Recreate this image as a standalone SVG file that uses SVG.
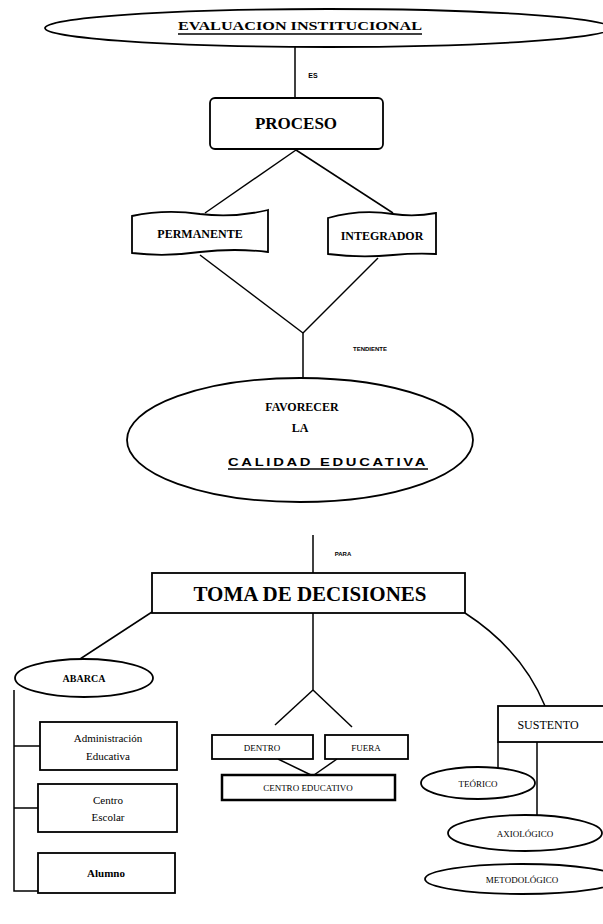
<svg xmlns="http://www.w3.org/2000/svg" width="603" height="924" viewBox="0 0 603 924">
<style>
.ln{stroke:#000;stroke-width:1.5;fill:none}
.sh{stroke:#000;stroke-width:1.8;fill:#fff}
.t{font-family:"Liberation Serif","DejaVu Serif",serif;fill:#000;text-anchor:middle}
.b{font-weight:bold}
.s{font-family:"Liberation Sans","DejaVu Sans",sans-serif;fill:#000;text-anchor:middle;font-weight:bold}
</style>
<rect width="603" height="924" fill="#fff"/>
<g id="connectors">
<line class="ln" x1="295" y1="46" x2="295" y2="98"/>
<line class="ln" x1="296" y1="150" x2="205" y2="213"/>
<line class="ln" x1="296" y1="150" x2="393" y2="213"/>
<line class="ln" x1="200" y1="255" x2="303" y2="333"/>
<line class="ln" x1="378" y1="258" x2="303" y2="333"/>
<line class="ln" x1="303" y1="333" x2="303" y2="378"/>
<line class="ln" x1="313" y1="535" x2="313" y2="573"/>
<line class="ln" x1="152" y1="612" x2="80" y2="659"/>
<line class="ln" x1="313" y1="613" x2="313" y2="690"/>
<line class="ln" x1="313" y1="690" x2="275" y2="725"/>
<line class="ln" x1="313" y1="690" x2="352" y2="727"/>
<line class="ln" x1="278" y1="759" x2="311" y2="775"/>
<line class="ln" x1="337" y1="759" x2="314" y2="775"/>
<path class="ln" d="M465,613 Q522,650 545,706"/>
<polyline class="ln" points="14,690 14,891 38,891"/>
<line class="ln" x1="14" y1="746" x2="40" y2="746"/>
<line class="ln" x1="14" y1="808" x2="38" y2="808"/>
<line class="ln" x1="498" y1="742" x2="498" y2="768"/>
<line class="ln" x1="537" y1="742" x2="537" y2="815"/>
<text class="s" x="313" y="78" font-size="7">ES</text>
<text class="s" x="370" y="351" font-size="6">TENDIENTE</text>
<text class="s" x="343" y="556" font-size="6">PARA</text>
</g>
<g id="evaluacion">
<ellipse class="sh" cx="328" cy="28" rx="283" ry="19"/>
<text class="t b" x="300" y="30" font-size="13" textLength="244" lengthAdjust="spacingAndGlyphs">EVALUACION INSTITUCIONAL</text>
<line class="ln" x1="178" y1="34" x2="422" y2="34" stroke-width="1.2"/>
</g>
<g id="proceso">
<rect class="sh" x="210" y="98" width="173" height="51" rx="5"/>
<text class="t b" x="296" y="129" font-size="17">PROCESO</text>
</g>
<g id="permanente">
<path class="sh" d="M132,216 Q165,209 200,214 Q235,218 268,210 L268,252 Q235,248 200,252 Q165,257 132,253 Z"/>
<text class="t b" x="200" y="238" font-size="12">PERMANENTE</text>
</g>
<g id="integrador">
<path class="sh" d="M328,218 Q360,209 393,214 Q415,217 436,213 L436,254 Q415,253 393,255 Q360,258 328,254 Z"/>
<text class="t b" x="382" y="240" font-size="12">INTEGRADOR</text>
</g>
<g id="favorecer">
<ellipse class="sh" cx="300" cy="440" rx="173" ry="62"/>
<text class="t b" x="302" y="411" font-size="12">FAVORECER</text>
<text class="t b" x="300" y="432" font-size="12">LA</text>
<text class="s" x="328" y="466" font-size="11" letter-spacing="2" textLength="200" lengthAdjust="spacingAndGlyphs">CALIDAD EDUCATIVA</text>
<line class="ln" x1="228" y1="469" x2="428" y2="469" stroke-width="1"/>
</g>
<g id="toma">
<rect class="sh" x="152" y="573" width="313" height="40"/>
<text class="t b" x="310" y="601" font-size="21">TOMA DE DECISIONES</text>
</g>
<g id="abarca">
<ellipse class="sh" cx="84" cy="678" rx="69" ry="19"/>
<text class="t b" x="84" y="682" font-size="10">ABARCA</text>
</g>
<g id="administracion">
<rect class="sh" x="40" y="722" width="137" height="48"/>
<text class="t" x="108" y="742" font-size="11">Administración</text>
<text class="t" x="108" y="760" font-size="11">Educativa</text>
</g>
<g id="centro-escolar">
<rect class="sh" x="38" y="784" width="139" height="48"/>
<text class="t" x="108" y="804" font-size="11">Centro</text>
<text class="t" x="108" y="821" font-size="11">Escolar</text>
</g>
<g id="alumno">
<rect class="sh" x="38" y="853" width="137" height="40"/>
<text class="t b" x="106" y="877" font-size="11">Alumno</text>
</g>
<g id="dentro">
<rect class="sh" x="212" y="735" width="101" height="24"/>
<text class="t" x="262" y="751" font-size="9">DENTRO</text>
</g>
<g id="fuera">
<rect class="sh" x="325" y="735" width="83" height="24"/>
<text class="t" x="366" y="751" font-size="9">FUERA</text>
</g>
<g id="centro-educativo">
<rect x="222" y="775" width="173" height="25" fill="#fff" stroke="#000" stroke-width="2.5"/>
<text class="t" x="308" y="791" font-size="9">CENTRO EDUCATIVO</text>
</g>
<g id="sustento">
<rect class="sh" x="498" y="706" width="110" height="36"/>
<text class="t" x="548" y="729" font-size="12">SUSTENTO</text>
</g>
<g id="teorico">
<ellipse class="sh" cx="478" cy="783" rx="57" ry="16"/>
<text class="t" x="478" y="787" font-size="9">TEÓRICO</text>
</g>
<g id="axiologico">
<ellipse class="sh" cx="525" cy="833" rx="77" ry="18"/>
<text class="t" x="525" y="837" font-size="9">AXIOLÓGICO</text>
</g>
<g id="metodologico">
<ellipse class="sh" cx="522" cy="879" rx="97" ry="15"/>
<text class="t" x="522" y="883" font-size="9">METODOLÓGICO</text>
</g>
</svg>
